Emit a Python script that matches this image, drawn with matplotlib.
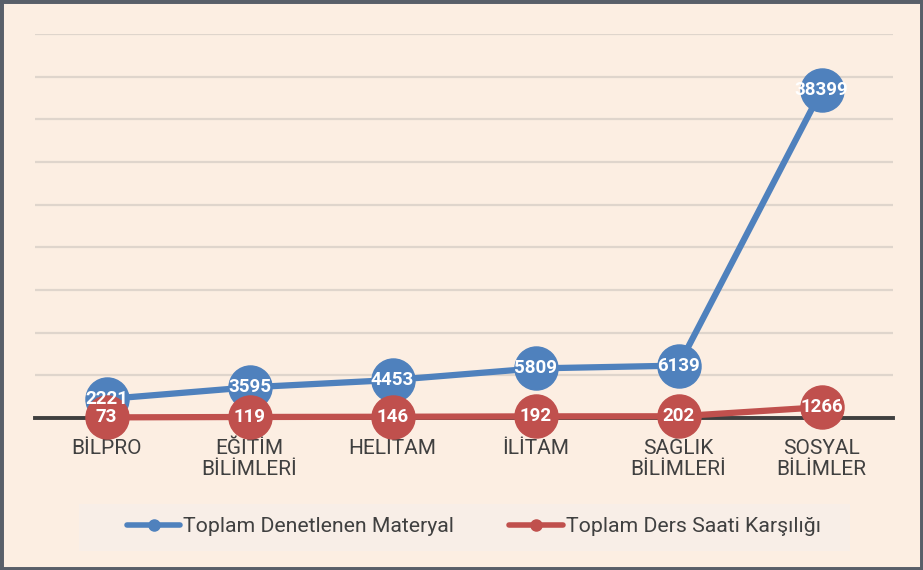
import matplotlib.pyplot as plt
from matplotlib.lines import Line2D
from matplotlib.patches import Rectangle

plt.rcParams['font.family'] = ['Roboto', 'DejaVu Sans']

categories = ['BİLPRO', 'EĞİTİM\nBİLİMLERİ', 'HELİTAM', 'İLİTAM', 'SAĞLIK\nBİLİMLERİ', 'SOSYAL\nBİLİMLER']
materyal = [2221, 3595, 4453, 5809, 6139, 38399]
ders_saati = [73, 119, 146, 192, 202, 1266]
series_names = ['Toplam Denetlenen Materyal', 'Toplam Ders Saati Karşılığı']

blue = '#4F81BD'
red = '#C0504D'
bg = '#FCEEE2'

W, H = 923, 570
fig = plt.figure(figsize=(W / 100, H / 100), dpi=100, facecolor=bg)
ax = fig.add_axes([35 / W, (H - 418) / H, (893 - 35) / W, (418 - 34) / H])
ax.set_facecolor(bg)

x = list(range(len(categories)))

# grid
ax.set_ylim(0, 45000)
ax.set_xlim(-0.5, 5.5)
ax.set_yticks(range(5000, 45001, 5000))
ax.yaxis.grid(True, color='#DFD5CC', lw=1.6)
ax.set_axisbelow(True)
ax.axhline(5000, color='#B3A89F', lw=1.3, zorder=0.5)
ax.axhline(0, color='#3F3F3F', lw=2.8, zorder=1, clip_on=False)
ax.tick_params(axis='y', left=False, labelleft=False)
for s in ax.spines.values():
    s.set_visible(False)

ax.set_xticks(x)
ax.set_xticklabels(categories, fontsize=15, color='#404040', linespacing=1.15)
ax.tick_params(axis='x', length=0, pad=15)

# lines
ax.plot(x, materyal, color=blue, lw=4.5, marker='o', ms=31, mec=blue, zorder=3, clip_on=False)
ax.plot(x, ders_saati, color=red, lw=4.5, marker='o', ms=31, mec=red, zorder=4, clip_on=False)

for xi, v in zip(x, materyal):
    ax.text(xi, v, str(v), color='white', fontsize=13.5, fontweight='bold',
            ha='center', va='center', zorder=6)
for xi, v in zip(x, ders_saati):
    ax.text(xi, v, str(v), color='white', fontsize=13.5, fontweight='bold',
            ha='center', va='center', zorder=6)

# legend box
fig.patches.append(Rectangle((79 / W, (H - 551) / H), (850 - 79) / W, 47 / H,
                             transform=fig.transFigure, facecolor='#F8EEE7',
                             edgecolor='none', zorder=0))
handles = [Line2D([], [], color=blue, lw=4, marker='o', ms=8, solid_capstyle='round'),
           Line2D([], [], color=red, lw=4, marker='o', ms=8, solid_capstyle='round')]
fig.legend(handles, series_names, loc='center left', bbox_to_anchor=(127 / W, (H - 527) / H),
           ncol=2, frameon=False, fontsize=15.3, labelcolor='#404040',
           handlelength=2.5, handletextpad=0.15, columnspacing=2.6, borderpad=0,
           borderaxespad=0)

# outer border
fig.patches.append(Rectangle((0, 0), 1, 1, transform=fig.transFigure, fill=False,
                             edgecolor='#595F69', lw=5, zorder=10))

fig.savefig('out.png', dpi=100, facecolor=bg)
